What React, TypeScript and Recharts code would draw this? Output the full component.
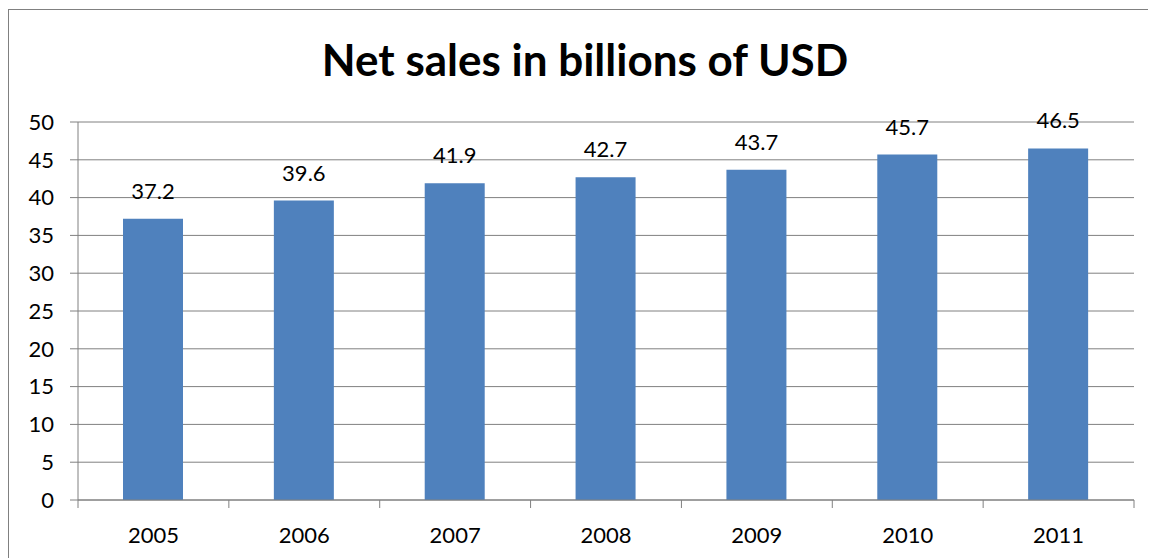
import { Bar, BarChart, CartesianGrid, LabelList, XAxis, YAxis } from 'recharts';

const years = ['2005', '2006', '2007', '2008', '2009', '2010', '2011'];
const netSales = [37.2, 39.6, 41.9, 42.7, 43.7, 45.7, 46.5];
const yTicks = [0, 5, 10, 15, 20, 25, 30, 35, 40, 45, 50];

const chartData = years.map((year, i) => ({ year, value: netSales[i] }));

const W = 1147;
const H = 549;
const PLOT_LEFT = 69;
const PLOT_RIGHT = 1125;
const GRID = '#808080';
const FONT = 'Lato, "Open Sans", sans-serif';

function YearTick(props: any) {
  const { x, y, payload, index } = props;
  const bw = (PLOT_RIGHT - PLOT_LEFT) / years.length;
  return (
    <g>
      <line x1={x - bw / 2} x2={x - bw / 2} y1={y} y2={y + 8} stroke={GRID} />
      {index === years.length - 1 && (
        <line x1={x + bw / 2} x2={x + bw / 2} y1={y} y2={y + 8} stroke={GRID} />
      )}
      <text x={x} y={y + 43} textAnchor="middle" fill="#000" fontSize={22} fontFamily={FONT}>
        {payload.value}
      </text>
    </g>
  );
}

export default function App() {
  return (
    <div
      style={{
        position: 'relative',
        top: 1,
        width: 1148,
        height: 550,
        borderTop: `1px solid ${GRID}`,
        borderLeft: `1px solid ${GRID}`,
        boxSizing: 'border-box',
        background: '#fff',
      }}
    >
      <svg width={W} height={100} style={{ position: 'absolute', left: 0, top: 0 }}>
        <text x={576} y={66} textAnchor="middle" fontSize={44} fontWeight={700} fontFamily={FONT} fill="#000">
          Net sales in billions of USD
        </text>
      </svg>
      <BarChart
        width={W}
        height={H}
        data={chartData}
        margin={{ top: 112, right: W - PLOT_RIGHT, left: 0, bottom: 0 }}
        barSize={60}
      >
        <CartesianGrid vertical={false} stroke={GRID} />
        <YAxis
          width={PLOT_LEFT}
          domain={[0, 50]}
          ticks={yTicks}
          interval={0}
          axisLine={{ stroke: GRID }}
          tickLine={{ stroke: GRID }}
          tickSize={8}
          tickMargin={16}
          tick={{ fill: '#000', fontSize: 22, fontFamily: FONT }}
        />
        <XAxis
          dataKey="year"
          height={H - 490}
          axisLine={{ stroke: GRID }}
          tickLine={false}
          tickSize={0}
          tickMargin={0}
          interval={0}
          tick={<YearTick />}
        />
        <Bar dataKey="value" fill="#4F81BD" isAnimationActive={false}>
          <LabelList dataKey="value" position="top" offset={20} fill="#000" fontSize={22} fontFamily={FONT} />
        </Bar>
      </BarChart>
    </div>
  );
}
